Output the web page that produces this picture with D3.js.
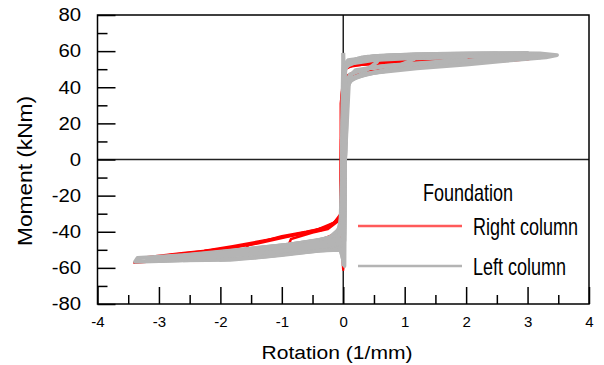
<!DOCTYPE html>
<html>
<head>
<meta charset="utf-8">
<script src="https://cdn.jsdelivr.net/npm/d3@7"></script>
<style>
  html, body { margin: 0; padding: 0; background: #fff; }
  svg { display: block; }
  text { font-family: "Liberation Sans", Arial, sans-serif; fill: #000; }
</style>
</head>
<body>
<svg id="chart" width="604" height="365"></svg>
<script>
// ---------- data ----------
const xTicks = [-4, -3, -2, -1, 0, 1, 2, 3, 4];
const xMinorTicks = [-3.5, -2.5, -1.5, -0.5, 0.5, 1.5, 2.5, 3.5];
const yTicks = [-80, -60, -40, -20, 0, 20, 40, 60, 80];
const yMinorTicks = [-70, -50, -30, -10, 10, 30, 50, 70];

const seriesNames = ["Right column", "Left column"];
const legendTitle = "Foundation";
const xTitle = "Rotation (1/mm)";
const yTitle = "Moment (kNm)";

// Right column (red) hysteresis loops: [rotation, moment]
const rightColumnLoops = [
  [[-0.04,-30],[-0.04,31],[-0.01,40],[0.03,50],[0.15,52],[0.50,53],[0.80,53.5],[0.75,51],[0.50,48.5],[0.20,47.5],[0.06,46],[0.02,30],[0.00,-30],[-0.04,-39],[-0.20,-43],[-0.50,-46],[-0.90,-48.2],[-0.85,-44],[-0.50,-40.5],[-0.25,-38.5],[-0.08,-34],[-0.04,-30]],
  [[-0.04,-30],[-0.03,31],[0.00,45],[0.04,51],[0.30,52.5],[0.80,53.8],[1.20,54.5],[1.50,55],[1.45,53],[1.00,50.5],[0.50,48.5],[0.20,47.8],[0.05,45],[0.01,20],[0.00,-35],[-0.05,-40],[-0.40,-45],[-0.90,-48.5],[-1.30,-50.5],[-1.60,-51.5],[-1.55,-47.5],[-1.00,-42.5],[-0.60,-40],[-0.25,-37.5],[-0.07,-33],[-0.04,-30]],
  [[-0.04,-30],[-0.03,30],[0.00,48],[0.05,52],[0.40,53],[1.00,54.5],[1.60,55.3],[2.20,56],[2.15,54.5],[1.60,53],[1.00,51],[0.50,49],[0.15,48],[0.04,46],[0.01,20],[0.00,-45],[-0.05,-41],[-0.40,-45.5],[-1.00,-49],[-1.80,-52],[-2.30,-53.8],[-2.25,-50.5],[-1.80,-48],[-1.00,-43],[-0.50,-39.5],[-0.20,-36.5],[-0.06,-32],[-0.04,-30]],
  [[-0.04,-30],[-0.03,30],[0.00,50],[0.06,52.5],[0.50,53.5],[1.20,54.8],[2.00,55.6],[2.70,56.2],[2.65,55],[2.00,53.5],[1.30,51.5],[0.60,49],[0.20,48],[0.05,46],[0.01,10],[0.00,-55],[-0.05,-42],[-0.40,-46],[-1.00,-49.5],[-2.00,-53],[-2.90,-55.8],[-2.85,-53],[-2.20,-50.5],[-1.40,-46.5],[-0.80,-42],[-0.35,-39],[-0.10,-34],[-0.04,-30]],
  [[-0.04,-30],[-0.03,30],[0.00,51],[0.06,53],[0.60,53.8],[1.50,55.2],[2.30,55.8],[3.10,56.3],[3.00,55.5],[2.40,54],[1.60,52.5],[0.80,50],[0.30,48],[0.06,46.5],[0.01,0],[0.00,-61],[-0.03,-45],[-0.40,-46.5],[-1.00,-50],[-2.00,-53.5],[-2.80,-55.5],[-3.40,-57.2],[-3.30,-54.5],[-2.60,-51.8],[-1.80,-49],[-1.00,-43],[-0.50,-40],[-0.15,-35],[-0.04,-30]]
];

// Left column (grey) hysteresis loops: [rotation, moment]
const leftColumnLoops = [
  [[0.00,-59],[0.01,30],[0.03,50],[0.12,54.5],[0.35,56.5],[0.60,57.3],[0.55,54],[0.30,47.5],[0.10,43],[0.04,36],[0.02,0],[0.01,-40],[-0.04,-47],[-0.30,-49.5],[-0.70,-51],[-0.65,-48],[-0.37,-45],[-0.12,-42.5],[-0.03,-38],[-0.02,0]],
  [[-0.02,0],[0.00,46],[0.04,53],[0.25,56],[0.70,57.5],[1.20,58],[1.15,55.5],[0.80,50.5],[0.40,47.5],[0.12,44],[0.04,38],[0.03,0],[0.02,-45],[-0.05,-48],[-0.40,-50],[-0.90,-52],[-1.30,-53.5],[-1.25,-50.5],[-0.86,-47],[-0.40,-44.5],[-0.12,-42.5],[-0.03,-36],[-0.02,20],[0.00,59]],
  [[0.00,59],[0.02,45],[0.05,53],[0.30,56.5],[1.00,58],[1.90,58.5],[1.85,56],[1.40,53],[0.90,50],[0.45,48],[0.15,45],[0.05,40],[0.03,0],[0.01,-50],[-0.05,-48.5],[-0.50,-50.5],[-1.20,-53.5],[-2.00,-55.5],[-1.95,-52.5],[-1.40,-49.5],[-0.80,-47],[-0.35,-44.5],[-0.10,-42],[-0.03,-35],[-0.01,20]],
  [[-0.01,20],[0.01,48],[0.06,54],[0.40,57],[1.20,58.2],[2.00,58.6],[2.50,58.8],[2.45,56.5],[1.90,54],[1.20,51.5],[0.60,48.5],[0.20,46],[0.06,42],[0.03,0],[0.01,-55],[-0.05,-49],[-0.60,-51],[-1.50,-54.5],[-2.60,-55.8],[-2.55,-53.2],[-1.80,-50.8],[-1.00,-47.5],[-0.45,-45],[-0.15,-42.5],[-0.03,-36],[-0.01,10]],
  [[-0.01,10],[0.01,50],[0.07,54.5],[0.50,57.2],[1.50,58.4],[2.40,58.8],[3.00,59],[2.95,57],[2.30,54.5],[1.50,52],[0.80,49.5],[0.30,47],[0.08,43],[0.03,0],[0.01,-57],[-0.05,-49.5],[-0.70,-51.5],[-1.80,-55],[-2.50,-55.6],[-3.00,-56.2],[-2.95,-54],[-2.20,-52],[-1.40,-49],[-0.70,-46.5],[-0.25,-44],[-0.05,-38],[-0.01,0]],
  [[-0.01,0],[0.01,51],[0.08,55],[0.60,57.5],[1.50,58.5],[2.50,58.9],[3.20,58.8],[3.48,57.8],[3.30,56.5],[2.60,54.5],[2.00,52.5],[1.20,50.5],[0.50,48],[0.15,45],[0.04,39],[0.03,0],[0.02,-59],[-0.04,-50],[-0.40,-50.5],[-1.00,-53],[-1.84,-55.6],[-2.60,-55.8],[-3.39,-56.6],[-3.35,-54.5],[-2.60,-53],[-1.84,-50.5],[-0.86,-47],[-0.37,-44.5],[-0.10,-42],[-0.02,-30],[0.00,0]],
  [[0.00,0],[0.02,50],[0.10,53],[0.50,55],[1.00,55.8],[2.00,56.5],[1.90,54.5],[1.20,53],[0.60,51.5],[0.20,49.5],[0.05,44],[0.02,0],[0.00,-42],[-0.05,-46],[-0.50,-48],[-1.20,-51],[-2.20,-53.5],[-2.10,-52],[-1.20,-49.5],[-0.50,-46.5],[-0.10,-44],[-0.02,-35],[0.00,0]],
  [[0.00,0],[0.02,51],[0.30,55.5],[1.50,56.8],[2.80,57.5],[2.70,55.5],[2.00,54.5],[1.00,52.5],[0.40,50.5],[0.10,47],[0.03,0],[0.00,-44],[-0.50,-49],[-1.50,-52],[-2.80,-55],[-2.70,-53.5],[-1.50,-50.5],[-0.60,-47.5],[-0.15,-45],[-0.02,-38],[0.00,0]],
  [[0.00,0],[0.02,52],[0.20,54.5],[1.00,56.5],[2.20,57.2],[3.30,57.5],[3.20,56.5],[2.50,55.5],[1.50,54],[0.70,52],[0.20,49],[0.04,44],[0.02,0],[0.00,-46],[-0.30,-48],[-1.20,-51.5],[-2.20,-54],[-3.20,-56],[-3.10,-55],[-2.20,-52.5],[-1.20,-49],[-0.40,-46.5],[-0.08,-44],[-0.02,-36],[0.00,0]]
];

// ---------- drawing ----------
(function () {
const svg = d3.select("#chart");
const pL = 97.5, pR = 589, pT = 15, pB = 304;

const x = d3.scaleLinear().domain([-4, 4]).range([pL, pR]);
const y = d3.scaleLinear().domain([-80, 80]).range([pB, pT]);

// zero lines
svg.append("line").attr("x1", x(0)).attr("x2", x(0)).attr("y1", pT).attr("y2", pB)
  .attr("stroke", "#222").attr("stroke-width", 1.5);
svg.append("line").attr("x1", pL).attr("x2", pR).attr("y1", y(0)).attr("y2", y(0))
  .attr("stroke", "#222").attr("stroke-width", 1.5);

const line = d3.line().x(d => x(d[0])).y(d => y(d[1]));

svg.append("g").selectAll("path").data(rightColumnLoops).join("path")
  .attr("d", line).attr("fill", "none").attr("stroke", "#ff0000")
  .attr("stroke-width", 2.5).attr("stroke-linejoin", "round");

svg.append("g").selectAll("path").data(leftColumnLoops).join("path")
  .attr("d", line).attr("fill", "none").attr("stroke", "#b4b4b4")
  .attr("stroke-width", 3.8).attr("stroke-linejoin", "round");

// frame
svg.append("rect").attr("x", pL).attr("y", pT).attr("width", pR - pL).attr("height", pB - pT)
  .attr("fill", "none").attr("stroke", "#000").attr("stroke-width", 1.5);

// x axis
const xAxis = svg.append("g").attr("transform", `translate(0,${pB})`)
  .call(d3.axisBottom(x).tickValues(xTicks).tickSize(-17).tickPadding(12.5).tickFormat(d => String(d)));
xAxis.select(".domain").remove();
xAxis.selectAll("line").attr("stroke", "#000").attr("stroke-width", 1.5);
xAxis.selectAll("text").style("font-size", "15px").style("font-family", "'Liberation Sans', Arial, sans-serif");

const xMinor = svg.append("g").attr("transform", `translate(0,${pB})`)
  .call(d3.axisBottom(x).tickValues(xMinorTicks).tickSize(-9).tickFormat(""));
xMinor.select(".domain").remove();
xMinor.selectAll("line").attr("stroke", "#000").attr("stroke-width", 1.5);

// y axis
const yAxis = svg.append("g").attr("transform", `translate(${pL},0)`)
  .call(d3.axisLeft(y).tickValues(yTicks).tickSize(-18).tickPadding(16.5).tickFormat(d => String(d)));
yAxis.select(".domain").remove();
yAxis.selectAll("line").attr("stroke", "#000").attr("stroke-width", 1.5);
yAxis.selectAll("text").style("font-size", "18px").style("font-family", "'Liberation Sans', Arial, sans-serif")
  .attr("x", -16.5 / 1.13).attr("transform", "scale(1.13,1)");

const yMinor = svg.append("g").attr("transform", `translate(${pL},0)`)
  .call(d3.axisLeft(y).tickValues(yMinorTicks).tickSize(-10).tickFormat(""));
yMinor.select(".domain").remove();
yMinor.selectAll("line").attr("stroke", "#000").attr("stroke-width", 1.5);

// axis titles
svg.append("text").attr("x", 337).attr("y", 359).attr("text-anchor", "middle")
  .style("font-size", "18px").attr("textLength", 151).attr("lengthAdjust", "spacingAndGlyphs")
  .text(xTitle);

svg.append("text").attr("transform", "translate(32,171) rotate(-90)").attr("text-anchor", "middle")
  .style("font-size", "20px").attr("textLength", 150).attr("lengthAdjust", "spacingAndGlyphs")
  .text(yTitle);

// legend
const legendColors = ["#ff5a5a", "#b4b4b4"];
const lg = svg.append("g");
lg.append("g").attr("transform", "translate(468,200.5) scale(0.75,1)")
  .append("text").attr("text-anchor", "middle").style("font-size", "24px").text(legendTitle);
const rows = [{ ly: 226, ty: 235 }, { ly: 266, ty: 275 }];
seriesNames.forEach((name, i) => {
  lg.append("line").attr("x1", 358).attr("x2", 462).attr("y1", rows[i].ly).attr("y2", rows[i].ly)
    .attr("stroke", legendColors[i]).attr("stroke-width", 2.5);
  lg.append("g").attr("transform", `translate(473,${rows[i].ty}) scale(0.75,1)`)
    .append("text").style("font-size", "24px").text(name);
});
})();
</script>
</body>
</html>
